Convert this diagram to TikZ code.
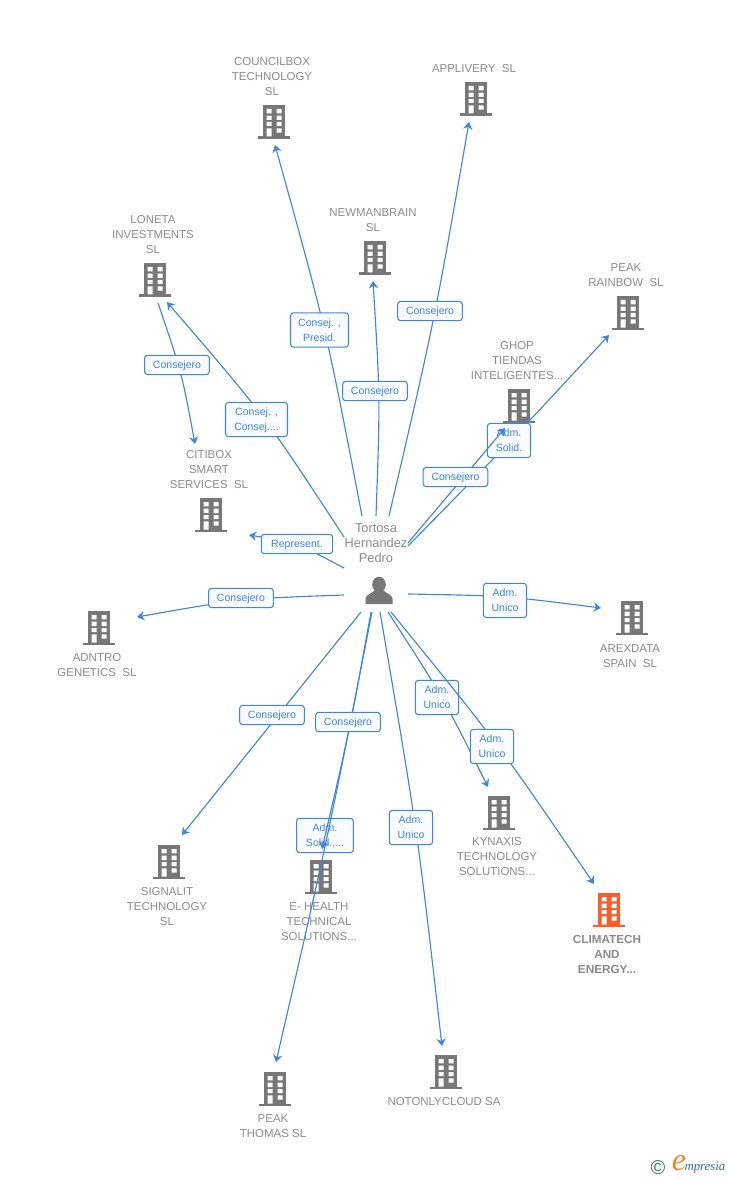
\documentclass[tikz,border=0pt]{standalone}
\usepackage{fontspec}
\setmainfont{Liberation Sans}
\newfontfamily\logofont{Liberation Serif}
\usetikzlibrary{arrows.meta}

\definecolor{linkblue}{HTML}{3D85E0}
\definecolor{boxfill}{HTML}{F8FAFD}
\definecolor{iconGray}{HTML}{777777}
\definecolor{textGray}{HTML}{8A8A8A}
\definecolor{iconOrange}{HTML}{FF5A2B}
\definecolor{logoTeal}{HTML}{2F6F8A}
\definecolor{logoOrange}{HTML}{F58220}

\tikzset{every picture/.style={line width=0.75pt}}
\tikzset{
	link/.style={draw=linkblue,line width=0.85pt,-{Stealth[length=5.5pt,width=7pt,inset=1.8pt]}},
	lblBase/.style={draw=linkblue,fill=boxfill,line width=0.8pt,rounded corners=2.25pt,text=linkblue,inner sep=0pt,font=\fontsize{7.9}{11.25}\selectfont,align=center},
	lblOne/.style={lblBase,minimum width=48.5pt,minimum height=14.5pt,text height=6pt,text depth=1pt},
	lblTwo/.style={lblBase,minimum width=32.5pt,minimum height=25.75pt,text depth=0pt},
	firm/.style={text=textGray,inner sep=0pt,font=\fontsize{8.6}{11.25}\selectfont,align=center},
	every pic/.style={yscale=-1},
	pics/bldg/.style={code={
		\fill[#1] (-11,0) rectangle (11,32);
		\fill[#1] (-16,31.5) rectangle (16,34);
		\fill[white] (-7.3,4) rectangle (-2.3,8.3) (2.7,4) rectangle (7.7,8.3);
		\fill[white] (-7.3,10.7) rectangle (-2.3,15) (2.7,10.7) rectangle (7.7,15);
		\fill[white] (-7.3,17) rectangle (-2.3,21) (2.7,17) rectangle (7.7,21);
		\fill[white] (-7.3,23.3) rectangle (-2.3,31.5) (2.7,23.3) rectangle (7.7,27.7);
	}},
}

\begin{document}
\begin{tikzpicture}[x=0.75pt,y=0.75pt,yscale=-1]
	\useasboundingbox (0,0) rectangle (728,1180);

	% Connector ends
	\coordinate (sCouncil) at (362,516);
	\coordinate (eCouncil) at (275,145);
	\coordinate (sApplivery) at (389,516);
	\coordinate (eApplivery) at (469,122);
	\coordinate (sNewman) at (376,516);
	\coordinate (eNewman) at (373,281);
	\coordinate (sLoneta) at (344,537);
	\coordinate (eLoneta) at (167,302);
	\coordinate (sCitibox) at (158,303);
	\coordinate (eCitibox) at (195,444);
	\coordinate (sRainbow) at (408,546);
	\coordinate (eRainbow) at (609,335);
	\coordinate (sGhop) at (408,543);
	\coordinate (eGhop) at (505,428);
	\coordinate (sRepresent) at (344,568);
	\coordinate (eRepresent) at (249,535);
	\coordinate (sAdntro) at (344,595);
	\coordinate (eAdntro) at (137,617);
	\coordinate (sArexdata) at (408,594);
	\coordinate (eArexdata) at (601,608);
	\coordinate (sSignalit) at (361,612);
	\coordinate (eSignalit) at (182,835);
	\coordinate (sThomas) at (372,612);
	\coordinate (eThomas) at (276,1062);
	\coordinate (sHealth) at (371,612);
	\coordinate (eHealth) at (322,849);
	\coordinate (sNotonly) at (380,612);
	\coordinate (eNotonly) at (442,1046);
	\coordinate (sKynaxis) at (388,612);
	\coordinate (eKynaxis) at (488,787);
	\coordinate (sClimatech) at (391,612);
	\coordinate (eClimatech) at (594,884);

	% Buildings
	\draw (274,105) pic {bldg=iconGray};
	\draw (476,82) pic {bldg=iconGray};
	\draw (375,241) pic {bldg=iconGray};
	\draw (155,263) pic {bldg=iconGray};
	\draw (628,296) pic {bldg=iconGray};
	\draw (519,389) pic {bldg=iconGray};
	\draw (211,498) pic {bldg=iconGray};
	\draw (99,611) pic {bldg=iconGray};
	\draw (632,601) pic {bldg=iconGray};
	\draw (169,845) pic {bldg=iconGray};
	\draw (321,860) pic {bldg=iconGray};
	\draw (499,796) pic {bldg=iconGray};
	\draw (609,893) pic {bldg=iconOrange};
	\draw (275,1072) pic {bldg=iconGray};
	\draw (446,1055) pic {bldg=iconGray};

	% Text Node
	\node[firm] (nCouncil) at (272,77) {COUNCILBOX\\TECHNOLOGY\\SL};
	\node[firm] (nApplivery) at (474,69) {APPLIVERY\ \ SL};
	\node[firm] (nNewman) at (373,220.5) {NEWMANBRAIN\\SL};
	\node[firm] (nLoneta) at (153,235) {LONETA\\INVESTMENTS\\SL};
	\node[firm] (nRainbow) at (626,275.5) {PEAK\\RAINBOW\ \ SL};
	\node[firm] (nGhop) at (517,361) {GHOP\\TIENDAS\\INTELIGENTES...};
	\node[firm] (nCitibox) at (209,470) {CITIBOX\\SMART\\SERVICES\ \ SL};
	\node[firm] (nAdntro) at (97,665.5) {ADNTRO\\GENETICS\ \ SL};
	\node[firm] (nArexdata) at (630,656.5) {AREXDATA\\SPAIN\ \ SL};
	\node[firm] (nSignalit) at (167,907) {SIGNALIT\\TECHNOLOGY\\SL};
	\node[firm] (nHealth) at (319,922) {E- HEALTH\\TECHNICAL\\SOLUTIONS...};
	\node[firm] (nKynaxis) at (497,857) {KYNAXIS\\TECHNOLOGY\\SOLUTIONS...};
	\node[firm,font=\fontsize{8.8}{11.25}\selectfont\bfseries] (nClimatech) at (607,954) {CLIMATECH\\AND\\ENERGY...};
	\node[firm] (nThomas) at (273,1126.5) {PEAK\\THOMAS SL};
	\node[firm] (nNotonly) at (444,1102) {NOTONLYCLOUD SA};
	\node[firm,font=\fontsize{9.6}{11.25}\selectfont] (hub) at (376,543.5) {Tortosa\\Hernandez\\Pedro};

	% Person
	\fill[iconGray] (379,584.5) ellipse (6.8 and 7.8);
	\fill[iconGray] (365.5,604) -- (365.5,598.5) .. controls (366,594.5) and (371,594) .. (375,590) -- (383,590) .. controls (387,594) and (392,594.5) .. (392.5,598.5) -- (392.5,604) -- cycle;

	% Upper connectors
	\draw[link] (sCouncil) .. controls (326.5,330.5) .. (eCouncil);
	\node[lblTwo,minimum width=43.5pt] (lCouncil) at (319.5,330) {Consej. ,\\Presid.};
	\draw[link] (sApplivery) .. controls (434.8,319.5) .. (eApplivery);
	\node[lblOne] (lApplivery) at (430,311) {Consejero};
	\draw[link] (sNewman) .. controls (380.2,398) .. (eNewman);
	\node[lblOne] (lNewman) at (375,391) {Consejero};
	\draw[link] (sLoneta) .. controls (264.2,415) .. (eLoneta);
	\node[lblTwo,minimum width=46.5pt] (lLoneta) at (256.5,419.5) {Consej. ,\\Consej....};
	\draw[link] (sCitibox) .. controls (181.8,373) .. (eCitibox);
	\node[lblOne] (lCitibox) at (177,365) {Consejero};

	% Right upper pair
	\draw[link] (sRainbow) .. controls (510,442) .. (eRainbow);
	\node[lblTwo] (lGhop) at (509,440.5) {Adm.\\Solid.};
	\draw[link] (sGhop) -- (eGhop);
	\node[lblOne] (lRainbow) at (455.5,477) {Consejero};

	% Middle connectors
	\draw[link] (sRepresent) .. controls (297,543) .. (eRepresent);
	\node[lblOne,minimum width=53.5pt] (lRepresent) at (297,544) {Represent.};
	\draw[link] (sAdntro) .. controls (240.5,598.7) .. (eAdntro);
	\node[lblOne] (lAdntro) at (241,598) {Consejero};
	\draw[link] (sArexdata) .. controls (504.5,595.7) .. (eArexdata);
	\node[lblTwo] (lArexdata) at (505,600.5) {Adm.\\Unico};

	% Lower connectors
	\draw[link] (sSignalit) -- (eSignalit);
	\node[lblOne] (lSignalit) at (272,715) {Consejero};
	\node[lblTwo,minimum width=42.5pt] (lHealth) at (325,835.5) {Adm.\\Solid.,...};
	\draw[link] (sHealth) .. controls (349.7,730) .. (eHealth);
	\draw[link] (sThomas) .. controls (328,837) .. (eThomas);
	\node[lblOne] (lThomas) at (348,722) {Consejero};
	\draw[link] (sNotonly) .. controls (417.2,829) .. (eNotonly);
	\node[lblTwo] (lNotonly) at (411,827.5) {Adm.\\Unico};
	\draw[link] (sKynaxis) .. controls (443,697) .. (eKynaxis);
	\node[lblTwo] (lKynaxis) at (437,697.5) {Adm.\\Unico};
	\draw[link] (sClimatech) .. controls (498.5,744) .. (eClimatech);
	\node[lblTwo] (lClimatech) at (492,746.5) {Adm.\\Unico};

	% Logo
	\node[text=logoTeal,inner sep=0pt,font=\fontsize{15}{15}\selectfont] (logoMark) at (658,1168) {©};
	\node[text=logoOrange,inner sep=0pt,font=\logofont\itshape\fontsize{24}{24}\selectfont] (logoE) at (679,1163) {e};
	\node[text=logoTeal,inner sep=0pt,anchor=west,font=\logofont\itshape\fontsize{9.6}{10}\selectfont] (logoRest) at (684,1168) {mpresia};

\end{tikzpicture}
\end{document}
